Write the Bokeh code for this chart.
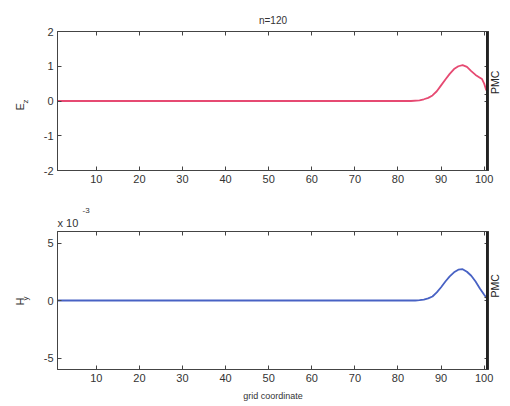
import math
from bokeh.plotting import figure
from bokeh.layouts import column
from bokeh.models import FixedTicker, LinearAxis, Span, Range1d, Title
from bokeh.embed import file_html
from bokeh.resources import INLINE

# ---- data ----
title_text = "n=120"
x_ticks = [10, 20, 30, 40, 50, 60, 70, 80, 90, 100]
ez_ticks = [-2, -1, 0, 1, 2]
hy_ticks = [-5, 0, 5]

ez_x = [1, 83, 85, 86, 87, 88, 89, 90, 91, 92, 93, 94, 95, 96, 97, 98, 99, 99.5, 100, 100.5]
ez_y = [0, 0, 0.02, 0.05, 0.09, 0.16, 0.28, 0.45, 0.62, 0.78, 0.92, 1.0, 1.03, 0.98, 0.86, 0.75, 0.67, 0.63, 0.5, 0.3]

hy_x = [1, 84, 85, 86, 87, 88, 89, 90, 91, 92, 93, 94, 95, 96, 97, 98, 99, 100, 101]
hy_y = [0, 0, 0.03, 0.08, 0.18, 0.35, 0.7, 1.15, 1.65, 2.1, 2.45, 2.68, 2.72, 2.5, 2.15, 1.65, 1.05, 0.5, 0]  # x 1e-3

pmc_x = 101
pmc_text = "PMC"
FONT = "Liberation Sans"
AX = "#444444"
TXT = "#333333"


def style(p, yticks, pmc_y):
    p.grid.visible = False
    p.outline_line_color = AX
    p.background_fill_color = "white"
    p.border_fill_color = "white"
    xb = p.below[0]
    yl = p.left[0]
    for ax in [xb, yl]:
        ax.axis_line_color = AX
        ax.major_tick_line_color = AX
        ax.major_tick_in = 4
        ax.major_tick_out = 0
        ax.minor_tick_line_color = None
        ax.major_label_text_font = FONT
        ax.major_label_text_font_size = "11px"
        ax.major_label_text_color = TXT
        ax.major_label_standoff = 4
    xb.ticker = FixedTicker(ticks=x_ticks)
    yl.ticker = FixedTicker(ticks=yticks)
    yl.major_label_overrides = {t: str(t) for t in yticks}
    top = LinearAxis(ticker=FixedTicker(ticks=x_ticks), major_tick_in=4, major_tick_out=0,
                     minor_tick_line_color=None, axis_line_color=AX, major_tick_line_color=AX,
                     major_label_text_font_size="0px", major_label_text_alpha=0, major_label_standoff=0)
    overrides = {t: "" for t in yticks}
    overrides[pmc_y] = pmc_text
    right = LinearAxis(ticker=FixedTicker(ticks=list(yticks) + [pmc_y]), major_tick_in=4, major_tick_out=0,
                       minor_tick_line_color=None, axis_line_color=AX, major_tick_line_color=AX,
                       major_label_overrides=overrides, major_label_orientation=math.pi / 2,
                       major_label_text_font=FONT, major_label_text_font_size="10.5px",
                       major_label_text_color="#222222", major_label_standoff=7)
    p.add_layout(top, "above")
    p.add_layout(right, "right")
    p.add_layout(Span(location=pmc_x, dimension="height", line_color="#222222", line_width=5))
    return xb, yl


def sub_label(p, main, sub, main_off, sub_off):
    p.add_layout(Title(text=sub, align="left", offset=sub_off, standoff=22, text_font=FONT,
                       text_font_size="8px", text_font_style="normal", text_color=TXT), "left")
    p.add_layout(Title(text=main, align="left", offset=main_off, standoff=-37, text_font=FONT,
                       text_font_size="11px", text_font_style="normal", text_color=TXT), "left")


# ---- top figure ----
p1 = figure(width=510, height=200, output_backend="svg", toolbar_location=None,
            x_range=Range1d(1, 101), y_range=Range1d(-2, 2),
            min_border_left=57, min_border_right=19, min_border_top=31, min_border_bottom=30)
p1.line(ez_x, ez_y, line_color="#e64a72", line_width=1.8)
style(p1, ez_ticks, 0.2)
p1.title.text = title_text
p1.title.align = "center"
p1.title.vertical_align = "top"
p1.title.text_font = FONT
p1.title.text_font_size = "10px"
p1.title.text_font_style = "normal"
p1.title.text_color = TXT
p1.title.standoff = 8
sub_label(p1, "E", "z", 60, 67)

# ---- bottom figure ----
p2 = figure(width=510, height=206, output_backend="svg", toolbar_location=None,
            x_range=Range1d(1, 101), y_range=Range1d(-6, 6),
            min_border_left=57, min_border_right=19, min_border_top=31, min_border_bottom=37)
p2.line(hy_x, hy_y, line_color="#4862c4", line_width=1.8)
xb2, yl2 = style(p2, hy_ticks, 0.26)
xb2.axis_label = "grid coordinate"
xb2.axis_label_text_font = FONT
xb2.axis_label_text_font_style = "normal"
xb2.axis_label_text_font_size = "9px"
xb2.axis_label_text_color = TXT
xb2.axis_label_standoff = 6
p2.add_layout(Title(text="x 10", align="left", offset=0, standoff=6, text_font=FONT,
                    text_font_size="11px", text_font_style="normal", text_color=TXT), "above")
p2.add_layout(Title(text="-3", align="left", offset=25, standoff=-3, text_font=FONT,
                    text_font_size="8px", text_font_style="normal", text_color=TXT), "above")
sub_label(p2, "H", "y", 64, 69)

layout = column(p1, p2, spacing=0)
open("out.html", "w").write(file_html(layout, INLINE))
